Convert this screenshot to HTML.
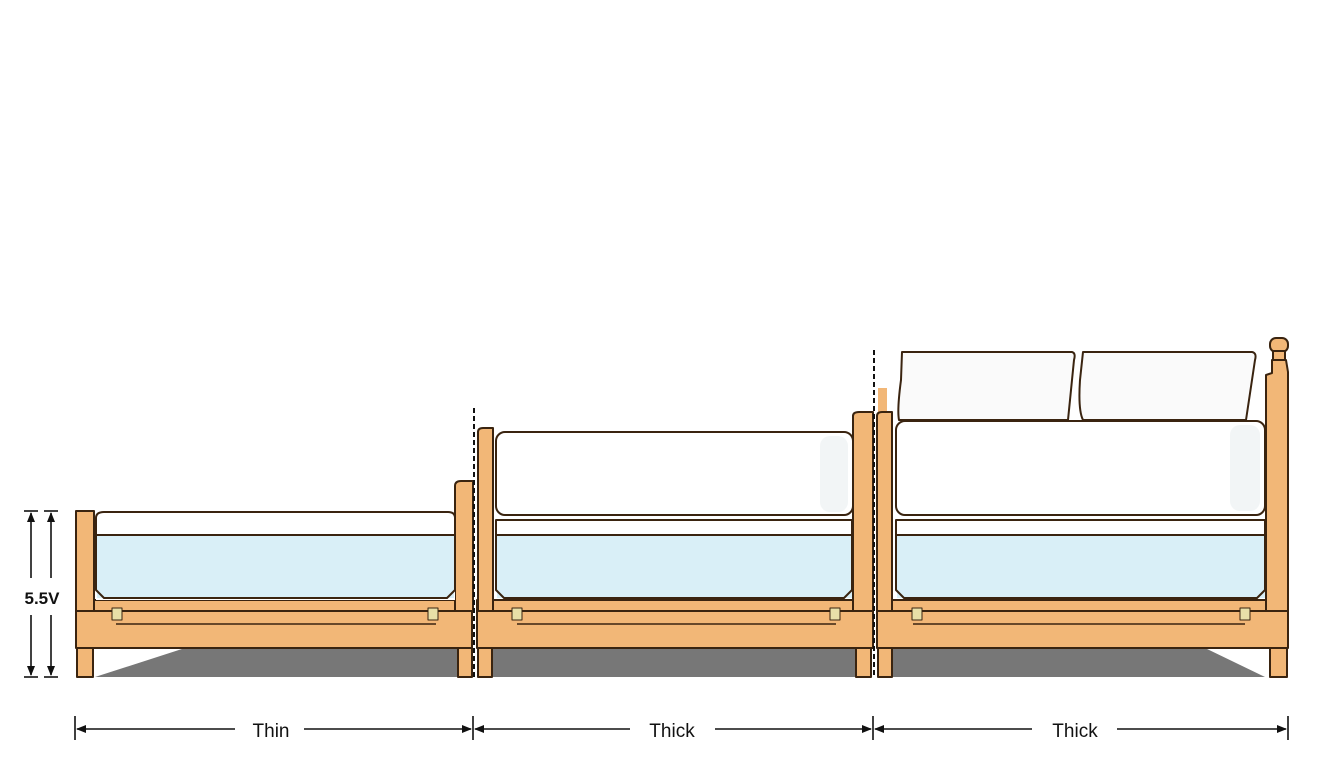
<!DOCTYPE html>
<html><head><meta charset="utf-8"><style>
html,body{margin:0;padding:0;background:#fff;}
svg{display:block;}
text{font-family:"Liberation Sans",sans-serif;}
</style></head><body>
<svg width="1344" height="768" viewBox="0 0 1344 768" xmlns="http://www.w3.org/2000/svg">
<defs>
<marker id="ar" markerWidth="10" markerHeight="8" refX="9" refY="4" orient="auto" markerUnits="userSpaceOnUse"><path d="M0,0 L10,4 L0,8 z" fill="#111"/></marker>
</defs>
<rect width="1344" height="768" fill="#fff"/>

<!-- shadows -->
<polygon points="95,677 185,648 458,648 458,677" fill="#777"/>
<polygon points="492,677 492,648 856,648 856,677" fill="#777"/>
<polygon points="892,677 892,648 1205,648 1265,677" fill="#777"/>

<g stroke="#3a2410" stroke-width="2" stroke-linejoin="round">
<!-- ===== BED 1 ===== -->
<rect x="76" y="600" width="396" height="48" fill="#f2b777"/>
<line x1="76" y1="611" x2="472" y2="611"/>
<line x1="116" y1="624" x2="436" y2="624" stroke-width="1.5"/>
<rect x="77" y="648" width="16" height="29" fill="#f2b777"/>
<rect x="458" y="648" width="14" height="29" fill="#f2b777"/>
<rect x="76" y="511" width="18" height="100" fill="#f2b777"/>
<path d="M455,611 L455,486 Q455,481 461,481 L473,481 L473,611 Z" fill="#f2b777"/>
<path d="M96,600 L96,518 Q96,512 104,512 L448,512 Q455,512 455,518 L455,600 Z" fill="#fff" stroke="none"/>
<rect x="97" y="535" width="357" height="63" fill="#d9eff7" stroke="none"/>
<path d="M96,590 L96,518 Q96,512 104,512 L448,512 Q455,512 455,518 L455,590 L447,598 L104,598 Z" fill="none"/>
<line x1="96" y1="535" x2="455" y2="535"/>
<rect x="112" y="608" width="10" height="12" fill="#e8e0a8" stroke-width="1"/>
<rect x="428" y="608" width="10" height="12" fill="#e8e0a8" stroke-width="1"/>

<!-- ===== BED 2 ===== -->
<rect x="477" y="600" width="396" height="48" fill="#f2b777"/>
<line x1="477" y1="611" x2="873" y2="611"/>
<line x1="517" y1="624" x2="836" y2="624" stroke-width="1.5"/>
<rect x="478" y="648" width="14" height="29" fill="#f2b777"/>
<rect x="856" y="648" width="15" height="29" fill="#f2b777"/>
<path d="M478,611 L478,432 Q478,428 483,428 L493,428 L493,611 Z" fill="#f2b777"/>
<path d="M853,611 L853,416 Q853,412 859,412 L873,412 L873,611 Z" fill="#f2b777"/>
<rect x="497" y="515" width="355" height="84" fill="#fff" stroke="none"/>
<rect x="497" y="535" width="355" height="63" fill="#d9eff7" stroke="none"/>
<path d="M496,590 L496,520 L852,520 L852,590 L844,598 L504,598 Z" fill="none"/>
<line x1="496" y1="535" x2="852" y2="535"/>
<rect x="496" y="432" width="357" height="83" rx="9" fill="#fff"/>
<rect x="512" y="608" width="10" height="12" fill="#e8e0a8" stroke-width="1"/>
<rect x="830" y="608" width="10" height="12" fill="#e8e0a8" stroke-width="1"/>

<!-- ===== BED 3 ===== -->
<rect x="877" y="600" width="411" height="48" fill="#f2b777"/>
<line x1="877" y1="611" x2="1288" y2="611"/>
<line x1="913" y1="624" x2="1245" y2="624" stroke-width="1.5"/>
<rect x="878" y="648" width="14" height="29" fill="#f2b777"/>
<rect x="1270" y="648" width="17" height="29" fill="#f2b777"/>
<rect x="878" y="388" width="9" height="30" fill="#f2b777" stroke="none"/>
<path d="M877,611 L877,416 Q877,412 882,412 L892,412 L892,611 Z" fill="#f2b777"/>
<path d="M1266,611 L1266,375 L1272,373 L1272,360 L1286,360 L1288,372 L1288,611 Z" fill="#f2b777"/>
<rect x="1270" y="338" width="18" height="14" rx="6" fill="#f2b777"/>
<rect x="1273" y="351" width="12" height="9" fill="#f2b777"/>
<!-- pillows -->
<path d="M902,352 L1072,352 Q1076,353 1074,360 L1068,420 L899,420 Q897,410 901,380 Z" fill="#fafafa"/>
<path d="M1083,352 L1252,352 Q1257,353 1255,360 L1246,420 L1083,420 Q1078,410 1080,380 Z" fill="#fafafa"/>
<rect x="897" y="515" width="368" height="84" fill="#fff" stroke="none"/>
<rect x="897" y="535" width="368" height="63" fill="#d9eff7" stroke="none"/>
<path d="M896,590 L896,520 L1265,520 L1265,590 L1257,598 L904,598 Z" fill="none"/>
<line x1="896" y1="535" x2="1265" y2="535"/>
<rect x="896" y="421" width="369" height="94" rx="9" fill="#fff"/>
<rect x="912" y="608" width="10" height="12" fill="#e8e0a8" stroke-width="1"/>
<rect x="1240" y="608" width="10" height="12" fill="#e8e0a8" stroke-width="1"/>
</g>

<!-- soft mattress shading -->
<g fill="#e9eef0" opacity="0.6">
<rect x="820" y="436" width="28" height="76" rx="10"/>
<rect x="1230" y="425" width="30" height="86" rx="10"/>
</g>

<!-- dashed separators -->
<line x1="474" y1="408" x2="474" y2="677" stroke="#111" stroke-width="2" stroke-dasharray="5,3"/>
<line x1="874" y1="350" x2="874" y2="677" stroke="#111" stroke-width="2" stroke-dasharray="5,3"/>

<!-- left height dimension -->
<g stroke="#111" stroke-width="1.6">
<line x1="24" y1="511" x2="38" y2="511"/><line x1="44" y1="511" x2="58" y2="511"/>
<line x1="24" y1="677" x2="38" y2="677"/><line x1="44" y1="677" x2="58" y2="677"/>
<line x1="31" y1="578" x2="31" y2="513" marker-end="url(#ar)"/>
<line x1="31" y1="615" x2="31" y2="675" marker-end="url(#ar)"/>
<line x1="51" y1="578" x2="51" y2="513" marker-end="url(#ar)"/>
<line x1="51" y1="615" x2="51" y2="675" marker-end="url(#ar)"/>
</g>
<text x="42" y="604" font-size="17" font-weight="bold" text-anchor="middle" fill="#111">5.5V</text>

<!-- bottom dimension -->
<g stroke="#111" stroke-width="1.6">
<line x1="75" y1="716" x2="75" y2="740"/>
<line x1="473" y1="716" x2="473" y2="740"/>
<line x1="873" y1="716" x2="873" y2="740"/>
<line x1="1288" y1="716" x2="1288" y2="740"/>
<line x1="235" y1="729" x2="77" y2="729" marker-end="url(#ar)"/>
<line x1="304" y1="729" x2="471" y2="729" marker-end="url(#ar)"/>
<line x1="630" y1="729" x2="475" y2="729" marker-end="url(#ar)"/>
<line x1="715" y1="729" x2="871" y2="729" marker-end="url(#ar)"/>
<line x1="1032" y1="729" x2="875" y2="729" marker-end="url(#ar)"/>
<line x1="1117" y1="729" x2="1286" y2="729" marker-end="url(#ar)"/>
</g>
<text x="271" y="737" font-size="19" text-anchor="middle" fill="#111">Thin</text>
<text x="672" y="737" font-size="19" text-anchor="middle" fill="#111">Thick</text>
<text x="1075" y="737" font-size="19" text-anchor="middle" fill="#111">Thick</text>
</svg>
</body></html>
